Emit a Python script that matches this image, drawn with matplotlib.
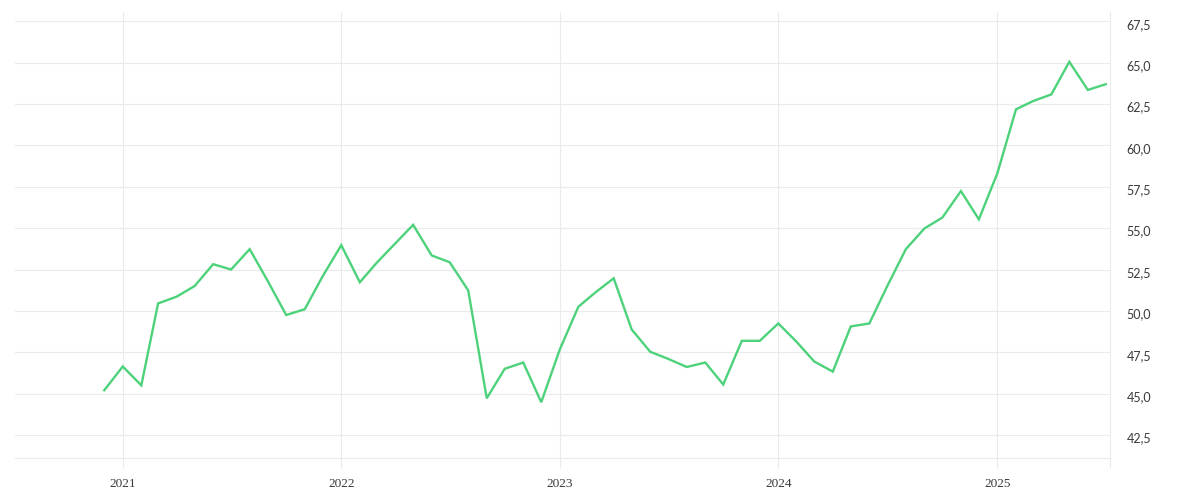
import matplotlib
matplotlib.use("Agg")
import matplotlib.pyplot as plt
import matplotlib.dates as mdates
import matplotlib.ticker as mticker
import matplotlib.transforms as mtrans
import pandas as pd
import numpy as np

# ---- data ----
start_month = "2020-12-01"
values = [
    45.2,                                                     # 2020-12
    46.64, 45.5, 50.45, 50.86, 51.5, 52.82, 52.5, 53.73, 51.75, 49.75, 50.1, 52.1,   # 2021
    53.97, 51.73, 52.9, 54.07, 55.2, 53.35, 52.94, 51.24, 44.72, 46.5, 46.88, 44.48, # 2022
    47.67, 50.25, 51.1, 51.97, 48.88, 47.53, 47.1, 46.61, 46.88, 45.55, 48.19, 48.19, # 2023
    49.24, 48.11, 46.94, 46.33, 49.06, 49.24, 51.5, 53.73, 54.98, 55.64, 57.24, 55.53, # 2024
    58.33, 62.18, 62.67, 63.08, 65.05, 63.35, 63.7,                                  # 2025
]
dates = pd.date_range(start_month, periods=len(values), freq="MS")
year_ticks = pd.to_datetime(["2021-01-01", "2022-01-01", "2023-01-01", "2024-01-01", "2025-01-01"])
year_labels = ["2021", "2022", "2023", "2024", "2025"]
y_ticks = [42.5, 45.0, 47.5, 50.0, 52.5, 55.0, 57.5, 60.0, 62.5, 65.0, 67.5]

# ---- style ----
grid_c = "#ebebeb"
line_c = "#4dd27b"
text_c = "#3a3a3a"

fig = plt.figure(figsize=(12, 5), dpi=100)
ax = fig.add_axes([15 / 1200, 1 - 458 / 500, (1110 - 15) / 1200, (458 - 12) / 500])

ax.plot(dates, values, color=line_c, linewidth=1.7, solid_joinstyle="miter")

x_end = pd.Timestamp("2025-07-08")
ax.set_xlim(pd.Timestamp("2020-07-05"), x_end)
ax.set_ylim(41.11, 68.06)

ax.set_xticks(year_ticks)
ax.set_xticklabels(year_labels)
ax.set_xticks([mdates.date2num(x_end)], minor=True)
ax.set_yticks(y_ticks)
ax.yaxis.set_major_formatter(mticker.FuncFormatter(lambda v, p: f"{v:.1f}".replace(".", ",")))

ax.yaxis.tick_right()
ax.tick_params(axis="y", which="both", length=0, pad=12, labelsize=9, labelcolor=text_c)
ax.tick_params(axis="x", which="both", direction="out", length=7.2, width=0.8,
               color=grid_c, pad=7, labelsize=9.6, labelcolor=text_c)

shift = mtrans.ScaledTranslation(0, -2.5 / 100, fig.dpi_scale_trans)
for lab in ax.get_yticklabels():
    lab.set_fontfamily(["Lato", "DejaVu Sans"])
    lab.set_transform(lab.get_transform() + shift)
for lab in ax.get_xticklabels():
    lab.set_fontfamily(["Liberation Serif", "DejaVu Serif"])

ax.grid(True, color=grid_c, linewidth=0.8)
ax.set_axisbelow(True)
for side in ["top", "left"]:
    ax.spines[side].set_visible(False)
ax.spines["bottom"].set_color(grid_c)
ax.spines["bottom"].set_linewidth(0.8)
ax.spines["right"].set_color(grid_c)
ax.spines["right"].set_linewidth(0.8)

fig.savefig("out.png", dpi=100)
